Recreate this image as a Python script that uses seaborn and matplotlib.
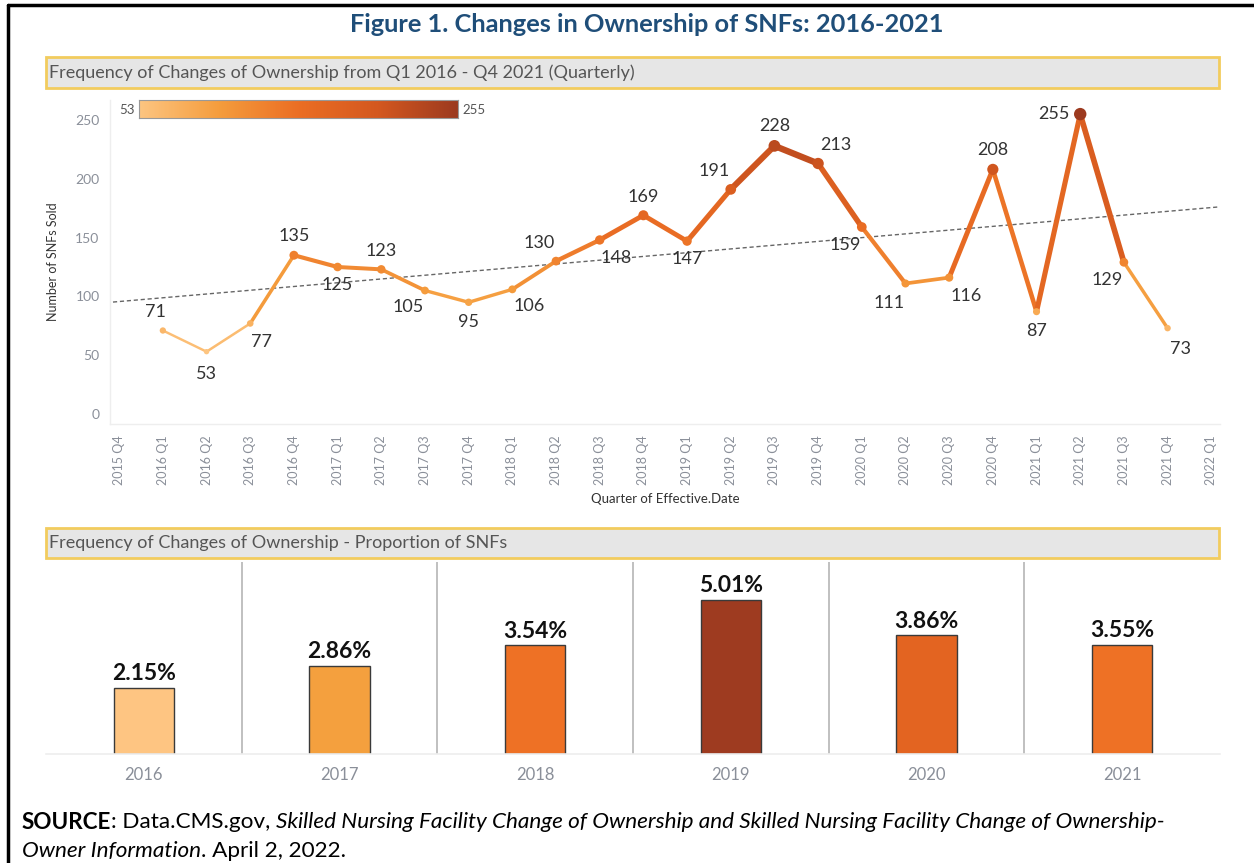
import numpy as np
import pandas as pd
import matplotlib
import matplotlib.pyplot as plt
import seaborn as sns
from matplotlib.colors import LinearSegmentedColormap, Normalize
from matplotlib.patches import Rectangle
from matplotlib.lines import Line2D

# data
quarters = ['2015 Q4'] + [f'{y} Q{q}' for y in range(2016, 2022) for q in range(1, 5)] + ['2022 Q1']
sold = [71, 53, 77, 135, 125, 123, 105, 95, 106, 130, 148, 169,
        147, 191, 228, 213, 159, 111, 116, 208, 87, 255, 129, 73]
years = ['2016', '2017', '2018', '2019', '2020', '2021']
share = [2.15, 2.86, 3.54, 5.01, 3.86, 3.55]
bar_colors = ['#FEC582', '#F4A03E', '#EE7125', '#9E3B20', '#E36421', '#EE7125']

# label offsets (points) for the line chart values
label_dx = [-5, 0, 8, 0, 0, 0, -12, 0, 12, -12, 12, 0,
            0, -12, 0, 13, -12, -12, 12, 0, 0, -19, -12, 9]
label_dy = [13, -16, -13, 14, -13, 13, -12, -14, -12, 13, -13, 13,
            -13, 13, 14, 13, -13, -14, -13, 14, -14, 0, -13, -15]

sns.set_style('white')
plt.rcParams['font.family'] = ['Lato', 'DejaVu Sans']

W, H = 1254, 863
fig = plt.figure(figsize=(W / 100, H / 100), dpi=100)


def fx(px):
    return px / W


def fy(py):
    return 1 - py / H


cmap = LinearSegmentedColormap.from_list(
    'snf', ['#FDC581', '#F59D3D', '#EB6E24', '#D4581F', '#9C3A1F'])
norm = Normalize(min(sold), max(sold))

# outer frame
fig.add_artist(Line2D([fx(8), 1], [fy(5), fy(5)], color='black', lw=2.5))
fig.add_artist(Line2D([fx(8), fx(8)], [fy(5), 0], color='black', lw=2.5))

fig.text(fx(647), fy(25), 'Figure 1. Changes in Ownership of SNFs: 2016-2021',
         ha='center', va='center', fontsize=18.3, fontweight='bold', color='#1F4E79')


def header(y0, y1, txt):
    fig.add_artist(Rectangle((fx(46), fy(y1)), fx(1219) - fx(46), fy(y0) - fy(y1),
                             transform=fig.transFigure, facecolor='#E6E6E6',
                             edgecolor='#F2CC5E', lw=2))
    fig.text(fx(49), (fy(y0) + fy(y1)) / 2, txt, ha='left', va='center',
             fontsize=13, color='#555555')


header(57, 88, 'Frequency of Changes of Ownership from Q1 2016 - Q4 2021 (Quarterly)')
header(528, 558, 'Frequency of Changes of Ownership - Proportion of SNFs')

# line chart
ax = fig.add_axes([fx(110), fy(424), fx(1220) - fx(110), fy(100) - fy(424)])
df = pd.DataFrame({'q': np.arange(1, len(sold) + 1), 'sold': sold})

# trend line
coef = np.polyfit(df['q'], df['sold'], 1)
xs = np.array([-0.3, 25.3])
ax.plot(xs, np.polyval(coef, xs), ls=(0, (3, 2)), color='#666666', lw=1, zorder=1)

for i in range(len(sold) - 1):
    mid = (sold[i] + sold[i + 1]) / 2
    ax.plot(df['q'].iloc[i:i + 2], df['sold'].iloc[i:i + 2], color=cmap(norm(mid)),
            lw=1.6 + 3.6 * norm(mid), solid_capstyle='round', zorder=2)

sns.scatterplot(data=df, x='q', y='sold', hue='sold', hue_norm=(min(sold), max(sold)),
                palette=cmap, size='sold', sizes=(15, 80), legend=False,
                linewidth=0, ax=ax, zorder=3)

for q, v, dx, dy in zip(df['q'], sold, label_dx, label_dy):
    ax.annotate(str(v), (q, v), xytext=(dx, dy), textcoords='offset points',
                ha='center', va='center', fontsize=13, color='#333333')

ax.set_xlim(-0.21, 25.2)
ax.set_ylim(-8.5, 267)
ax.set_xticks(range(len(quarters)))
ax.set_xticklabels(quarters, rotation=90, fontsize=9, color='#8A8F99')
ax.set_yticks([0, 50, 100, 150, 200, 250])
ax.tick_params(axis='y', labelsize=10, colors='#8A8F99', length=4, width=0.6, color='#E0E0E0')
ax.tick_params(axis='x', length=5, width=0.6, color='#E0E0E0', pad=3)
ax.set_xlabel('Quarter of Effective.Date', fontsize=9.5, color='#333333', labelpad=6)
ax.set_ylabel('Number of SNFs Sold', fontsize=9, color='#333333', labelpad=12)
for s in ['top', 'right']:
    ax.spines[s].set_visible(False)
for s in ['left', 'bottom']:
    ax.spines[s].set_color('#EEEEEE')
    ax.spines[s].set_linewidth(1)

# colour legend
cax = fig.add_axes([fx(139), fy(118), fx(458) - fx(139), fy(100) - fy(118)])
cax.imshow(np.linspace(0, 1, 256)[None, :], aspect='auto', cmap=cmap)
cax.set_xticks([])
cax.set_yticks([])
for s in cax.spines.values():
    s.set_color('#999999')
    s.set_linewidth(0.8)
fig.text(fx(135), fy(110), str(min(sold)), ha='right', va='center', fontsize=9.5, color='#555555')
fig.text(fx(462), fy(110), str(max(sold)), ha='left', va='center', fontsize=9.5, color='#555555')

# bar chart
ax2 = fig.add_axes([fx(46), fy(754), fx(1220) - fx(46), fy(562) - fy(754)])
bdf = pd.DataFrame({'year': years, 'share': share})
sns.barplot(data=bdf, x='year', y='share', hue='year', palette=bar_colors, legend=False,
            width=0.31, edgecolor='#3A3A3A', linewidth=1, saturation=1, ax=ax2)
for i, v in enumerate(share):
    ax2.text(i, v + 0.12, f'{v:.2f}%', ha='center', va='bottom', fontsize=16.5,
             fontweight='bold', color='#111111')
for x in np.arange(0.5, len(years) - 0.5, 1):
    ax2.axvline(x, color='#B5B5B5', lw=1.2)
ax2.set_xlim(-0.5, len(years) - 0.5)
ax2.set_ylim(0, 6.25)
ax2.set_yticks([])
ax2.set_xlabel('')
ax2.set_ylabel('')
ax2.tick_params(axis='x', length=0, labelsize=12, labelcolor='#8A8F99', pad=9)
for s in ['top', 'right', 'left']:
    ax2.spines[s].set_visible(False)
ax2.spines['bottom'].set_color('#EEEEEE')
ax2.spines['bottom'].set_linewidth(1.2)

# source note, built from styled pieces
renderer = fig.canvas.get_renderer()


def pieces(y, parts):
    x = fx(22)
    for txt, style in parts:
        t = fig.text(x, y, txt, ha='left', va='center', fontsize=16.2, color='black',
                     fontweight='bold' if style == 'b' else 'normal',
                     fontstyle='italic' if style == 'i' else 'normal')
        bb = t.get_window_extent(renderer=renderer)
        x += bb.width / W


pieces(fy(822), [('SOURCE', 'b'), (': Data.CMS.gov, ', 'n'),
                 ('Skilled Nursing Facility Change of Ownership and Skilled Nursing Facility Change of Ownership-', 'i')])
pieces(fy(851), [('Owner Information', 'i'), ('. April 2, 2022.', 'n')])

fig.savefig('out.png', dpi=100)
